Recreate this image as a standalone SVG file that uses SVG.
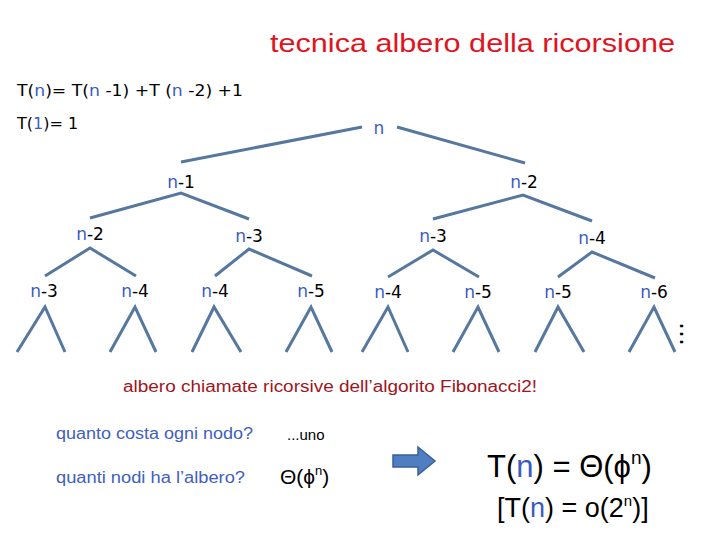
<svg xmlns="http://www.w3.org/2000/svg" width="720" height="540" viewBox="0 0 720 540">
<style>
.e{stroke:#56779e;stroke-width:3;fill:none;stroke-linecap:butt}
.lab{font-family:"DejaVu Sans",sans-serif;font-size:17px;fill:#000}
.n{fill:#3a5cc0}
.f{font-family:"DejaVu Sans",sans-serif;font-size:16px;fill:#000}
.c{font-family:"Liberation Sans","DejaVu Sans",sans-serif}
.big{font-family:"Liberation Sans","DejaVu Sans",sans-serif;fill:#000}
</style>
<rect width="720" height="540" fill="#fff"/>
<text x="270" y="52" class="c" font-size="26" fill="#e0141e" textLength="405" lengthAdjust="spacingAndGlyphs">tecnica albero della ricorsione</text>
<text x="17" y="96" class="f" textLength="226" lengthAdjust="spacingAndGlyphs">T(<tspan class="n">n</tspan>)= T(<tspan class="n">n</tspan> -1) +T (<tspan class="n">n</tspan> -2) +1</text>
<text x="17" y="129" class="f">T(<tspan class="n">1</tspan>)= 1</text>
<g id="connectors">
<path class="e" d="M181,162 L362,127 M397,127 L525,163"/>
<path class="e" d="M90,218 L181,193 L249,219"/>
<path class="e" d="M433,219 L523,195 L592,221"/>
<path class="e" d="M45,276 L90,248 L136,276"/>
<path class="e" d="M215,276 L249,249 L312,276"/>
<path class="e" d="M388,277 L433,250 L479,277"/>
<path class="e" d="M558,277 L592,252 L655,278"/>
<path class="e" d="M17,352 L45,307 L65,352"/>
<path class="e" d="M110,352 L135,307 L156,352"/>
<path class="e" d="M192,352 L214,307 L241,352"/>
<path class="e" d="M286,352 L311,307 L332,352"/>
<path class="e" d="M362,352 L388,307 L408,352"/>
<path class="e" d="M453,352 L478,307 L499,352"/>
<path class="e" d="M535,352 L558,307 L584,352"/>
<path class="e" d="M629,352 L654,307 L675,352"/>
</g>
<g id="root"><text x="379" y="134" class="lab" text-anchor="middle"><tspan class="n">n</tspan></text></g>
<g id="a1"><text x="181" y="188" class="lab" text-anchor="middle"><tspan class="n">n</tspan>-1</text></g>
<g id="a2"><text x="524" y="188" class="lab" text-anchor="middle"><tspan class="n">n</tspan>-2</text></g>
<g id="b1"><text x="90" y="240" class="lab" text-anchor="middle"><tspan class="n">n</tspan>-2</text></g>
<g id="b2"><text x="249" y="242" class="lab" text-anchor="middle"><tspan class="n">n</tspan>-3</text></g>
<g id="b3"><text x="433" y="242" class="lab" text-anchor="middle"><tspan class="n">n</tspan>-3</text></g>
<g id="b4"><text x="592" y="244" class="lab" text-anchor="middle"><tspan class="n">n</tspan>-4</text></g>
<g id="c1"><text x="44" y="297" class="lab" text-anchor="middle"><tspan class="n">n</tspan>-3</text></g>
<g id="c2"><text x="135" y="297" class="lab" text-anchor="middle"><tspan class="n">n</tspan>-4</text></g>
<g id="c3"><text x="215" y="297" class="lab" text-anchor="middle"><tspan class="n">n</tspan>-4</text></g>
<g id="c4"><text x="311" y="297" class="lab" text-anchor="middle"><tspan class="n">n</tspan>-5</text></g>
<g id="c5"><text x="388" y="298" class="lab" text-anchor="middle"><tspan class="n">n</tspan>-4</text></g>
<g id="c6"><text x="478" y="298" class="lab" text-anchor="middle"><tspan class="n">n</tspan>-5</text></g>
<g id="c7"><text x="558" y="298" class="lab" text-anchor="middle"><tspan class="n">n</tspan>-5</text></g>
<g id="c8"><text x="654" y="298" class="lab" text-anchor="middle"><tspan class="n">n</tspan>-6</text></g>
<text x="687" y="341" font-family="DejaVu Sans,sans-serif" font-size="24" fill="#000" text-anchor="middle" transform="rotate(90 687 334)">…</text>
<text x="123" y="392" class="c" font-size="16" fill="#a01420" textLength="414" lengthAdjust="spacingAndGlyphs">albero chiamate ricorsive dell’algorito Fibonacci2!</text>
<text x="56" y="439" class="c" font-size="16" fill="#4060c0" textLength="197" lengthAdjust="spacingAndGlyphs">quanto costa ogni nodo?</text>
<text x="56" y="483" class="c" font-size="16" fill="#4060c0" textLength="189" lengthAdjust="spacingAndGlyphs">quanti nodi ha l’albero?</text>
<text x="287" y="440" class="c" font-size="15" fill="#000">...uno</text>
<text x="280" y="484" class="big" font-size="21">Θ(ϕ<tspan font-size="13" dy="-9">n</tspan><tspan dy="9">)</tspan></text>
<path d="M393,455 H418 V447 L435,461 L418,475 V467 H393 Z" fill="#4f7fc0" stroke="#3a6099" stroke-width="1.5"/>
<text x="487" y="477" class="big" font-size="31">T(<tspan fill="#3a5cc0">n</tspan>) = Θ(ϕ<tspan font-size="19" dy="-13">n</tspan><tspan dy="13">)</tspan></text>
<text x="497" y="517" class="big" font-size="27">[T(<tspan fill="#3a5cc0">n</tspan>) = o(2<tspan font-size="15" dy="-11">n</tspan><tspan dy="11">)]</tspan></text>
</svg>
